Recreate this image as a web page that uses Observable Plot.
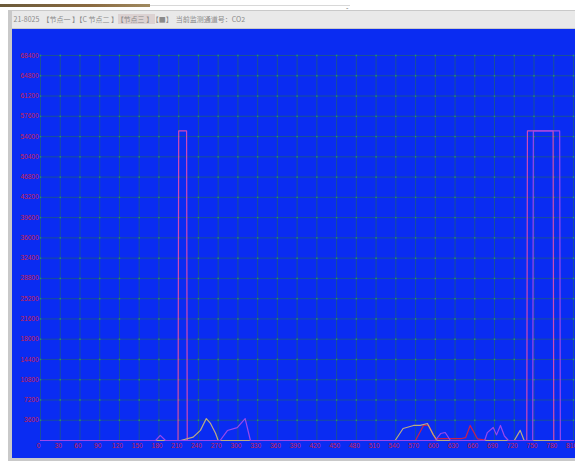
<!DOCTYPE html>
<html>
<head>
<meta charset="utf-8">
<script src="https://cdn.jsdelivr.net/npm/d3@7"></script>
<script src="https://cdn.jsdelivr.net/npm/@observablehq/plot@0.6"></script>
<style>
  html, body { margin: 0; padding: 0; background: #ffffff; width: 575px; height: 461px; overflow: hidden; position: relative; font-family: "Noto Sans CJK SC", "DejaVu Sans", sans-serif; }
  #topbar { position: absolute; left: 0; top: 4px; width: 150px; height: 3px; background: linear-gradient(90deg, #6b5a3a, #8a6a40 60%, #a08a60); }
  #topline { position: absolute; left: 150px; top: 5px; width: 200px; height: 1px; background: #d8d8d8; }
  #dash { position: absolute; left: 346px; top: 2px; font-size: 7px; color: #555; }
  #frame { position: absolute; left: 8px; top: 10px; width: 567px; height: 451px; background: #c9c9c9; }
  #titlebar { position: absolute; left: 12px; top: 11px; width: 563px; height: 17px; background: #e9e9e9; font-size: 7px; color: #8a8a8a; line-height: 17px; white-space: nowrap; }
  #titlebar span.tab { background: #dcd2d2; padding: 0 2px; }
  #chart { position: absolute; left: 12px; top: 29px; }
</style>
</head>
<body>
<div id="topbar"></div>
<div id="topline"></div>
<div id="dash">-</div>
<div id="frame"></div>
<div id="titlebar">&nbsp;21-8025 &nbsp;【节点一 】【C 节点二 】<span class="tab">【节点三 】</span>【■】 &nbsp;当前监测通道号：CO2</div>
<div id="chart"></div>
<script>
// tick values
const xTicks = [0,30,60,90,120,150,180,210,240,270,300,330,360,390,420,450,480,510,540,570,600,630,660,690,720,750,780,810];
const yTicks = [3600,7200,10800,14400,18000,21600,25200,28800,32400,36000,39600,43200,46800,50400,54000,57600,61200,64800,68400];

// series 1: magenta spikes
const s1x = [0, 209, 210, 222, 223, 739, 740, 779, 780, 810];
const s1y = [0, 0, 55000, 55000, 0, 0, 55000, 55000, 0, 0];

// series 2: red
const s2x = [0, 570, 582, 590, 600, 610, 640, 646, 653, 664, 680, 810];
const s2y = [0, 0, 2670, 2670, 300, 350, 350, 500, 2670, 300, 0, 0];

// series 3: tan
const s3x = [0, 200, 213, 232, 243, 252, 258, 266, 270, 530, 539, 551, 567, 577, 588, 597, 603, 720, 729, 735, 810];
const s3y = [0, 0, 0, 600, 1800, 3900, 3100, 1300, 0, 0, 0, 2130, 2670, 2700, 3020, 1000, 0, 0, 1800, 0, 0];

// series 4: purple
const s4x = [0, 175, 182, 190, 270, 273, 284, 299, 311, 319, 600, 608, 615, 623, 675, 679, 688, 693, 699, 705, 711, 748, 749, 789, 790, 810];
const s4y = [0, 0, 900, 0, 0, 0, 1770, 2300, 3900, 0, 0, 1240, 1420, 0, 0, 1400, 2310, 1000, 2670, 800, 0, 0, 55000, 55000, 0, 0];

const seriesNames = ["s1", "s2", "s3", "s4"];
const seriesColors = ["#d04ab8", "#c8204e", "#bcab84", "#9a48ec"];
const allX = [s1x, s2x, s3x, s4x];
const allY = [s1y, s2y, s3y, s4y];

const data = [];
allX.forEach((xs, i) => xs.forEach((x, j) => data.push({series: seriesNames[i], x, y: allY[i][j]})));

const chart = Plot.plot({
  width: 563,
  height: 429,
  marginLeft: 28,
  marginRight: 2,
  marginTop: 26,
  marginBottom: 18,
  style: { background: "#0a2cf2", fontFamily: "Liberation Sans, Arial, sans-serif" },
  x: { domain: [0, 810], axis: null, label: null },
  y: { domain: [0, 68400], axis: null, label: null },
  color: { domain: seriesNames, range: seriesColors },
  marks: [
    Plot.ruleX(xTicks, { stroke: "#1a4f9a", strokeWidth: 1 }),
    Plot.ruleY([0, ...yTicks], { stroke: "#1a4f9a", strokeWidth: 1 }),
    Plot.dot(xTicks.flatMap(x => yTicks.map(y => ({x, y}))), { x: "x", y: "y", r: 0.9, fill: "#238878", stroke: null }),
    Plot.line(data, { x: "x", y: "y", z: "series", stroke: "series", strokeWidth: 1.2, curve: "linear" }),
    Plot.axisX(xTicks, { tickSize: 0, tickPadding: 3, fontSize: 6.5, fill: "#d0204c", dx: -2, label: null, tickFormat: d => String(d) }),
    Plot.axisY(yTicks, { tickSize: 0, tickPadding: 2, fontSize: 6.5, fill: "#d0204c", label: null, tickFormat: d => String(d) })
  ]
});
document.getElementById("chart").appendChild(chart);
</script>
</body>
</html>
